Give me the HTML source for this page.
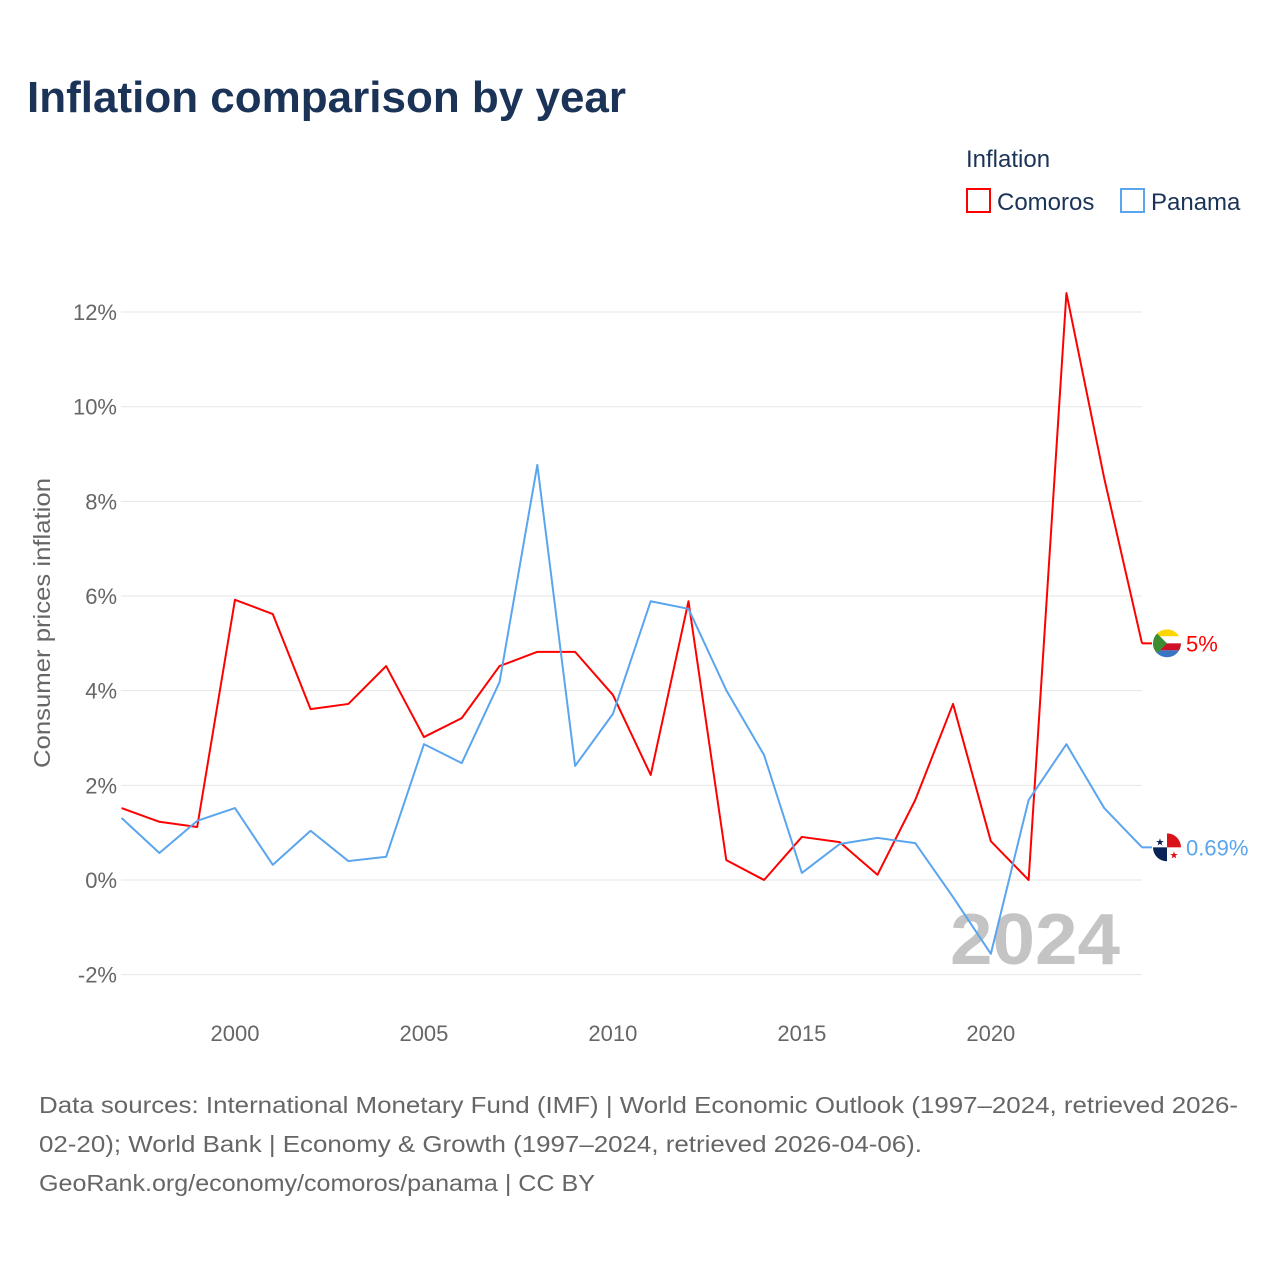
<!DOCTYPE html>
<html><head><meta charset="utf-8">
<style>
body{margin:0;background:#fff;font-family:"Liberation Sans",sans-serif;}
#wrap{position:relative;width:1280px;height:1280px;overflow:hidden;}
</style></head>
<body>
<div id="wrap">
<svg id="chart" width="1280" height="1280"></svg>
</div>
<script>
const years = [1997,1998,1999,2000,2001,2002,2003,2004,2005,2006,2007,2008,2009,2010,2011,2012,2013,2014,2015,2016,2017,2018,2019,2020,2021,2022,2023,2024];
const comoros = [1.52,1.23,1.12,5.92,5.62,3.61,3.72,4.52,3.02,3.42,4.52,4.82,4.82,3.91,2.22,5.89,0.42,0,0.91,0.80,0.11,1.69,3.72,0.82,0,12.4,8.49,5.0];
const panama = [1.31,0.57,1.25,1.52,0.32,1.04,0.40,0.49,2.87,2.47,4.18,8.77,2.41,3.51,5.89,5.73,4.01,2.64,0.15,0.76,0.89,0.78,-0.36,-1.56,1.69,2.87,1.52,0.69];
const yTicks = [-2,0,2,4,6,8,10,12];
const yTickLabels = ["-2%","0%","2%","4%","6%","8%","10%","12%"];
const xTicks = [2000,2005,2010,2015,2020];
const endLabels = ["5%","0.69%"];

const NS="http://www.w3.org/2000/svg";
const svg=document.getElementById('chart');
function X(y){return 121.6+(y-1997)*(1142-121.6)/27;}
function Y(v){return 880-v*47.33;}
function mk(tag,attrs,text){const e=document.createElementNS(NS,tag);for(const k in attrs)e.setAttribute(k,attrs[k]);if(text!==undefined)e.textContent=text;svg.appendChild(e);return e;}
const F='"Liberation Sans",sans-serif';

let t=mk('text',{x:27,y:112,'font-size':44,'font-weight':'bold',fill:'#1a3356','font-family':F},'Inflation comparison by year');



t=mk('text',{x:966,y:167,'font-size':24,fill:'#1a3356','font-family':F},'Inflation');


[[966,'#ff0000','Comoros','legend-comoros'],[1120,'#5aa5ee','Panama','legend-panama']].forEach(([x,c,l,n])=>{
  const g=mk('g',{});
  
  
  const r=document.createElementNS(NS,'rect');
  r.setAttribute('x',x+1);r.setAttribute('y',189);r.setAttribute('width',23);r.setAttribute('height',23);r.setAttribute('fill','none');r.setAttribute('stroke',c);r.setAttribute('stroke-width',2);
  g.appendChild(r);
  const tx=document.createElementNS(NS,'text');
  tx.setAttribute('x',x+31);tx.setAttribute('y',210);tx.setAttribute('font-size',24);tx.setAttribute('fill','#1a3356');tx.setAttribute('font-family',F);tx.textContent=l;
  g.appendChild(tx);
});

yTicks.forEach((v,i)=>{
  const l=mk('line',{x1:121,x2:1142,y1:Y(v),y2:Y(v),stroke:'#e6e6e6','stroke-width':1});
  
  
  const tx=mk('text',{x:117,y:Y(v)+8,'font-size':22,fill:'#666','text-anchor':'end','font-family':F},yTickLabels[i]);
  
  
});
xTicks.forEach(v=>{
  const tx=mk('text',{x:X(v),y:1041,'font-size':22,fill:'#666','text-anchor':'middle','font-family':F},String(v));
  
  
});
t=mk('text',{x:0,y:0,'font-size':23,fill:'#666','text-anchor':'middle','font-family':F,textLength:290,lengthAdjust:'spacingAndGlyphs',transform:'translate(50,623) rotate(-90)'},'Consumer prices inflation');



t=mk('text',{x:1120,y:964,'font-size':72,'font-weight':'bold',fill:'#c4c4c4','text-anchor':'end','font-family':F,textLength:170,lengthAdjust:'spacingAndGlyphs'},'2024');



function line(vals,c,n){
  const p=vals.map((v,i)=>X(years[i])+','+Y(v)).join(' ');
  const el=mk('polyline',{points:p,fill:'none',stroke:c,'stroke-width':2,'stroke-linejoin':'round'});
  
  
}
line(comoros,'#ff0000','comoros-line');
line(panama,'#5aa5ee','panama-line');

const lastC=comoros[comoros.length-1], lastP=panama[panama.length-1];
let e=mk('line',{x1:1142,x2:1152,y1:Y(lastC),y2:Y(lastC),stroke:'#ff0000','stroke-width':2});


e=mk('line',{x1:1142,x2:1152,y1:Y(lastP),y2:Y(lastP),stroke:'#5aa5ee','stroke-width':2});



let cy=Y(lastC);
mk('defs',{}).innerHTML='<clipPath id="c1"><circle cx="1167" cy="'+cy+'" r="14"/></clipPath><clipPath id="c2"><circle cx="1167" cy="'+Y(lastP)+'" r="14"/></clipPath>';
let g=mk('g',{'clip-path':'url(#c1)'});


g.innerHTML='<rect x="1153" y="'+(cy-14)+'" width="28" height="7" fill="#ffd500"/><rect x="1153" y="'+(cy-7)+'" width="28" height="7" fill="#fff"/><rect x="1153" y="'+cy+'" width="28" height="7" fill="#ce1126"/><rect x="1153" y="'+(cy+7)+'" width="28" height="7" fill="#3a75c4"/><polygon points="1153,'+(cy-14)+' 1167,'+cy+' 1153,'+(cy+14)+'" fill="#3d8e33"/>';
t=mk('text',{x:1186,y:cy+8,'font-size':22,fill:'#ff0000','font-family':F},endLabels[0]);



let py=Y(lastP);
g=mk('g',{'clip-path':'url(#c2)'});


g.innerHTML='<rect x="1153" y="'+(py-14)+'" width="28" height="28" fill="#fff"/><rect x="1167" y="'+(py-14)+'" width="14" height="14" fill="#da121a"/><rect x="1153" y="'+py+'" width="14" height="14" fill="#072357"/><text x="1160" y="'+(py-2)+'" font-size="10" fill="#072357" text-anchor="middle">★</text><text x="1174" y="'+(py+11)+'" font-size="10" fill="#da121a" text-anchor="middle">★</text>';
t=mk('text',{x:1186,y:py+8,'font-size':22,fill:'#5aa5ee','font-family':F},endLabels[1]);



const src=['Data sources: International Monetary Fund (IMF) | World Economic Outlook (1997–2024, retrieved 2026-','02-20); World Bank | Economy & Growth (1997–2024, retrieved 2026-04-06).','GeoRank.org/economy/comoros/panama | CC BY'];
const srcLen=[1199,883,556];
src.forEach((s,i)=>{
  const tx=mk('text',{x:39,y:1113+i*39,'font-size':23,fill:'#666','font-family':F,textLength:srcLen[i],lengthAdjust:'spacingAndGlyphs'},s);
  
  
});
</script>
</body></html>
